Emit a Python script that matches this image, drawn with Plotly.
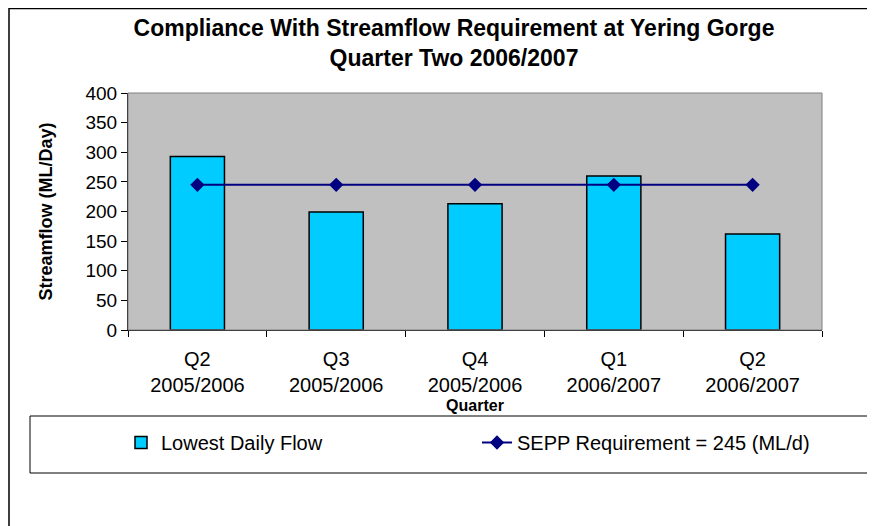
import plotly.graph_objects as go

categories = ["Q2<br>2005/2006", "Q3<br>2005/2006", "Q4<br>2005/2006", "Q1<br>2006/2007", "Q2<br>2006/2007"]
lowest_flow = [293, 199, 213, 260, 162]
sepp_requirement = [245, 245, 245, 245, 245]
y_ticks = [0, 50, 100, 150, 200, 250, 300, 350, 400]

# page is offset by 8px body margin; figure coordinates = page - 8
W, H = 867, 518
L, R, T, B = 120, 814, 85, 322
pw, ph = R - L, B - T

def px(x):
    return (x - L) / pw

def py(y):
    return (B - y) / ph

FONT = "Arial, Liberation Sans, sans-serif"

fig = go.Figure()
fig.add_trace(go.Bar(
    x=categories, y=lowest_flow, name="Lowest Daily Flow",
    marker=dict(color="#00CCFF", line=dict(color="black", width=1.5)),
    width=0.39,
))
fig.add_trace(go.Scatter(
    x=categories, y=sepp_requirement, name="SEPP Requirement = 245 (ML/d)",
    mode="lines+markers",
    line=dict(color="#000080", width=2),
    marker=dict(symbol="diamond", size=11, color="#000080"),
))

fig.update_layout(
    width=W, height=H,
    margin=dict(l=L, r=W - R, t=T, b=H - B),
    paper_bgcolor="white",
    plot_bgcolor="#C0C0C0",
    font=dict(family=FONT, size=19, color="black"),
    title=dict(
        text="<b>Compliance With Streamflow Requirement at Yering Gorge<br>Quarter Two 2006/2007</b>",
        x=446 / W, xanchor="center", y=1 - 28 / H, yanchor="top",
        font=dict(size=23, family=FONT),
    ),
    showlegend=True,
    legend=dict(
        orientation="h",
        x=px(113), xanchor="left", y=py(415), yanchor="top",
        bgcolor="rgba(0,0,0,0)", borderwidth=0,
        font=dict(size=20), entrywidth=311, valign="middle",
    ),
    bargap=0.6,
)
fig.update_xaxes(
    showline=True, linecolor="black", linewidth=1, mirror=False,
    ticks="outside", ticklen=6, tickcolor="black",
    tickson="boundaries", ticklabelstandoff=11,
    title=dict(text="<b>Quarter</b>", font=dict(size=16), standoff=4),
    tickfont=dict(size=20),
    showgrid=False,
)
fig.update_yaxes(
    range=[0, 400], tickvals=y_ticks,
    showline=True, linecolor="black", linewidth=1,
    ticks="outside", ticklen=6, tickcolor="black",
    showgrid=False, zeroline=False,
    title=dict(text="<b>Streamflow (ML/Day)</b>", font=dict(size=18), standoff=28),
    tickfont=dict(size=19),
)
fig.add_shape(type="rect", xref="paper", yref="paper",
              x0=px(L), x1=px(R), y0=py(T), y1=py(B),
              line=dict(color="#808080", width=1), layer="above")
# legend box
fig.add_shape(type="rect", xref="paper", yref="paper",
              x0=px(22), x1=px(864), y0=py(408), y1=py(465),
              line=dict(color="black", width=1), layer="above")
# outer chart border
fig.add_shape(type="rect", xref="paper", yref="paper",
              x0=px(1), x1=px(W + 5), y0=py(0.5), y1=py(H + 5),
              line=dict(color="black", width=1.5), layer="above")
fig.write_html("out.html")
